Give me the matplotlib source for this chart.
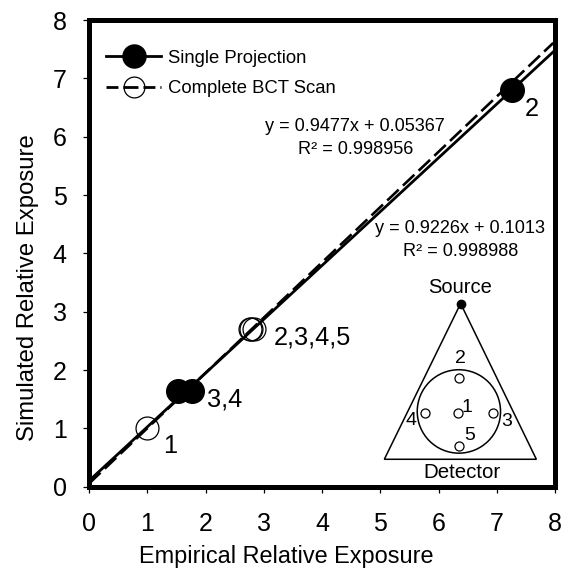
import numpy as np
import matplotlib
matplotlib.use("Agg")
import matplotlib.pyplot as plt
from matplotlib.lines import Line2D
from matplotlib.patches import Circle, Polygon

plt.rcParams['font.family'] = ['Liberation Sans', 'DejaVu Sans']

single_x = [1.535, 1.765, 7.255]
single_y = [1.635, 1.635, 6.80]
scan_x = [0.993, 2.76, 2.78, 2.84]
scan_y = [1.007, 2.71, 2.71, 2.71]

fit_x = [0, 8]
single_fit_y = [0.1013, 7.482]
scan_fit_x = [0, 7.97]
scan_fit_y = [0.0537, 7.607]

ticks = [0, 1, 2, 3, 4, 5, 6, 7, 8]

# inset sketch of the geometry
source = (6.38, 3.14)
detector_corners = [(5.07, 0.47), (7.68, 0.47)]
phantom_centre = (6.35, 1.29)
phantom_radius = 0.715
hole_x = [6.34, 6.35, 6.94, 5.76, 6.35]
hole_y = [1.27, 1.87, 1.27, 1.27, 0.69]
hole_labels = ['1', '2', '3', '4', '5']
hole_label_x = [6.49, 6.37, 7.17, 5.52, 6.53]
hole_label_y = [1.36, 2.19, 1.11, 1.14, 0.87]

fig = plt.figure(figsize=(5.62, 5.69), dpi=100)
ax = fig.add_axes([89 / 562, 1 - 486.7 / 569, 466 / 562, 466.7 / 569])

ax.plot(fit_x, single_fit_y, color='k', lw=2.0, zorder=3)
ax.plot(scan_fit_x, scan_fit_y, color='k', lw=1.9, dashes=(6, 2.2), zorder=3)
ax.plot(single_x, single_y, 'o', color='k', ms=17, zorder=4)
ax.plot(scan_x, scan_y, 'o', mfc='none', mec='k', mew=0.9, ms=16.5, zorder=4)

ax.text(3.18, 2.44, '2,3,4,5', fontsize=18.3)
ax.text(2.03, 1.37, '3,4', fontsize=18.3)
ax.text(1.27, 0.58, '1', fontsize=18.3)
ax.text(7.48, 6.36, '2', fontsize=18.3)

ax.text(3.02, 6.09, 'y = 0.9477x + 0.05367', fontsize=13.1)
ax.text(3.59, 5.71, 'R² = 0.998956', fontsize=13.1)
ax.text(4.91, 4.35, 'y = 0.9226x + 0.1013', fontsize=13.1)
ax.text(5.39, 3.955, 'R² = 0.998988', fontsize=13.1)

# inset
ax.add_patch(Polygon([source] + detector_corners, closed=True, fill=False,
                     ec='k', lw=1.1, zorder=2))
ax.add_patch(Circle(phantom_centre, phantom_radius, fill=False, ec='k', lw=1.1))
ax.plot(hole_x, hole_y, 'o', mfc='white', mec='k', mew=0.9, ms=6.5)
ax.plot(*source, 'o', color='k', ms=6)
for lab, lx, ly in zip(hole_labels, hole_label_x, hole_label_y):
    ax.text(lx, ly, lab, fontsize=14, ha='center', va='center')
ax.text(6.37, 3.42, 'Source', fontsize=14.5, ha='center', va='center')
ax.text(6.40, 0.25, 'Detector', fontsize=14.8, ha='center', va='center')

handles = [
    Line2D([], [], color='k', lw=2.0, marker='o', ms=16.6),
    Line2D([], [], color='k', lw=2.0, dashes=(4.3, 1.8, 5.4, 1.8), marker='o',
           mfc='none', mec='k', mew=0.9, ms=15),
]
ax.legend(handles, ['Single Projection', 'Complete BCT Scan'],
          loc='upper left', bbox_to_anchor=(0.0365, 0.936), frameon=False,
          fontsize=13.3, handlelength=3.0, handletextpad=0.35, labelspacing=0.73,
          borderpad=0, borderaxespad=0)

ax.set_xlim(0, 8)
ax.set_ylim(0, 8)
ax.set_xticks(ticks)
ax.set_yticks(ticks)
ax.tick_params(labelsize=18, length=4, width=0.9)
ax.tick_params(axis='x', pad=14)
ax.tick_params(axis='y', pad=12)
ax.set_xlabel('Empirical Relative Exposure', fontsize=16.9, va='center')
ax.set_ylabel('Simulated Relative Exposure', fontsize=17.2, va='center')
ax.xaxis.set_label_coords(0.423, -0.1505)
ax.yaxis.set_label_coords(-0.131, 0.426)
for s in ax.spines.values():
    s.set_linewidth(3.6)

fig.savefig('out.png', dpi=100)
